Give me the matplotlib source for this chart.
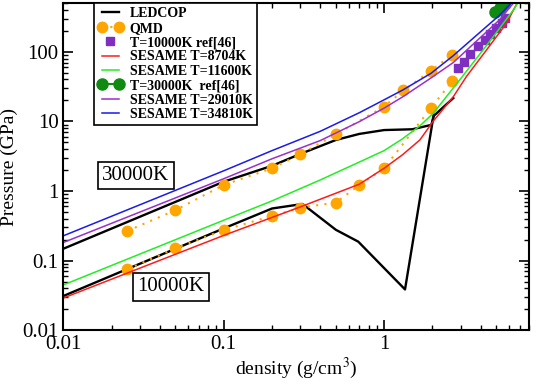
import matplotlib
matplotlib.use("Agg")
import matplotlib.pyplot as plt
from matplotlib.legend_handler import HandlerLine2D
from matplotlib.ticker import FuncFormatter

plt.rcParams['font.family'] = ['Liberation Serif', 'DejaVu Serif']
plt.rcParams['mathtext.fontset'] = 'stix'

# LEDCOP, upper (30000K) and lower (10000K) branch
led_hi_x = [0.01, 0.1, 0.2, 0.3, 0.5, 0.7, 1.0, 1.5, 1.97, 2.04, 2.7]
led_hi_y = [0.148, 1.36, 2.3, 3.4, 5.4, 6.6, 7.5, 7.7, 8.9, 12.0, 21.6]
led_lo_x = [0.01, 0.1, 0.2, 0.31, 0.5, 0.69, 1.35, 2.05]
led_lo_y = [0.031, 0.29, 0.56, 0.65, 0.277, 0.187, 0.0385, 13.5]

# QMD points
qmd_hi_x = [0.025, 0.05, 0.1, 0.2, 0.3, 0.5, 1.0, 1.32, 1.96, 2.65]
qmd_hi_y = [0.266, 0.53, 1.22, 2.12, 3.37, 6.5, 16.3, 27.8, 53.4, 90.6]
qmd_lo_x = [0.025, 0.05, 0.1, 0.2, 0.3, 0.5, 0.7, 1.0, 1.96, 2.65]
qmd_lo_y = [0.075, 0.15, 0.275, 0.437, 0.575, 0.68, 1.22, 2.12, 15.6, 37.4]

# ref[46]
ref10k_x = [2.9, 3.15, 3.42, 3.85, 4.24, 4.6, 5.0, 5.4, 5.7]
ref10k_y = [58, 72, 93.6, 119, 148, 180, 220, 258, 305]
ref30k_x = [4.9, 5.25, 5.6]
ref30k_y = [367, 425, 490]

# SESAME
s8704_x = [0.01, 0.1, 0.3, 0.7, 1.0, 1.3, 1.67, 2.02, 2.7, 3.26, 4.35, 5.8, 6.75]
s8704_y = [0.029, 0.23, 0.59, 1.25, 2.12, 3.3, 5.4, 10.0, 22.6, 44, 106, 257, 500]
s11600_x = [0.01, 0.1, 0.2, 0.4, 0.7, 1.0, 1.3, 1.67, 2.02, 2.95, 4.8, 6.4, 6.8]
s11600_y = [0.0447, 0.38, 0.72, 1.44, 2.6, 3.8, 5.6, 8.6, 13, 39, 165, 400, 500]
s29010_x = [0.01, 0.1, 0.2, 0.4, 0.7, 1.0, 1.31, 1.96, 2.7, 5.25, 6.4]
s29010_y = [0.182, 1.5, 2.9, 5.3, 9.9, 15.5, 22.6, 42, 70, 288, 500]
s34810_x = [0.01, 0.1, 0.2, 0.4, 0.7, 1.0, 1.31, 1.96, 2.7, 5.25, 6.2]
s34810_y = [0.227, 1.95, 3.8, 7.2, 13.3, 20.4, 28.3, 49, 88, 336, 500]

orange = '#ffa500'

fig = plt.figure(figsize=(5.37, 3.88), dpi=100)
ax = fig.add_axes([0.118, 0.149, 0.867, 0.843])

l_led, = ax.plot(led_hi_x, led_hi_y, color='black', lw=1.7, label='LEDCOP')
ax.plot(led_lo_x, led_lo_y, color='black', lw=1.7)

l_qmd, = ax.plot(qmd_hi_x, qmd_hi_y, color=orange, ls=(0, (1, 3)), lw=1.5,
                 marker='o', ms=7.5, mec=orange, label='QMD')
ax.plot(qmd_lo_x, qmd_lo_y, color=orange, ls=(0, (1, 3)), lw=1.5,
        marker='o', ms=7.5, mec=orange)

l_sq, = ax.plot(ref10k_x, ref10k_y, ls='none', marker='s', ms=6,
                color='#7f2fbf', label='T=10000K ref[46]')
l_r, = ax.plot(s8704_x, s8704_y, color='#ff1a1a', lw=1.1, label='SESAME T=8704K')
l_g, = ax.plot(s11600_x, s11600_y, color='#22ee22', lw=1.1, label='SESAME T=11600K')
l_gc, = ax.plot(ref30k_x, ref30k_y, color='#108a10', lw=1.5, marker='o', ms=8,
                label='T=30000K  ref[46]')
l_p, = ax.plot(s29010_x, s29010_y, color='#9a2fd0', lw=1.1, label='SESAME T=29010K')
l_b, = ax.plot(s34810_x, s34810_y, color='#1a1aee', lw=1.1, label='SESAME T=34810K')

ax.set_xscale('log')
ax.set_yscale('log')
ax.set_xlim(0.01, 8)
ax.set_ylim(0.01, 500)

fmt = FuncFormatter(lambda v, p: ('%g' % v))
ax.xaxis.set_major_formatter(fmt)
ax.yaxis.set_major_formatter(fmt)
ax.tick_params(which='both', direction='in', top=True, right=True, labelsize=15)
ax.tick_params(which='major', length=7, width=1.2)
ax.tick_params(which='minor', length=3.5, width=1)
for s in ax.spines.values():
    s.set_linewidth(1.5)

ax.set_xlabel('density (g/cm$^3$)', fontsize=14, labelpad=1)
ax.set_ylabel('Pressure (GPa)', fontsize=14, labelpad=3)

box = dict(boxstyle='square,pad=0.2', fc='white', ec='black', lw=1.2)
ax.text(0.0175, 1.45, '30000K', fontsize=15, bbox=box)
ax.text(0.029, 0.036, '10000K', fontsize=15, bbox=box)

leg = ax.legend(handles=[l_led, l_qmd, l_sq, l_r, l_g, l_gc, l_p, l_b],
                loc='upper left', bbox_to_anchor=(0.065, 1.0), numpoints=2,
                handler_map={l_sq: HandlerLine2D(numpoints=1)},
                prop={'size': 10, 'weight': 'bold'}, fancybox=False,
                edgecolor='black', framealpha=1,
                borderpad=0.3, labelspacing=0.1, handlelength=1.8,
                handletextpad=0.5, borderaxespad=0)
leg.get_frame().set_linewidth(1.2)

fig.savefig('out.png', dpi=100)
